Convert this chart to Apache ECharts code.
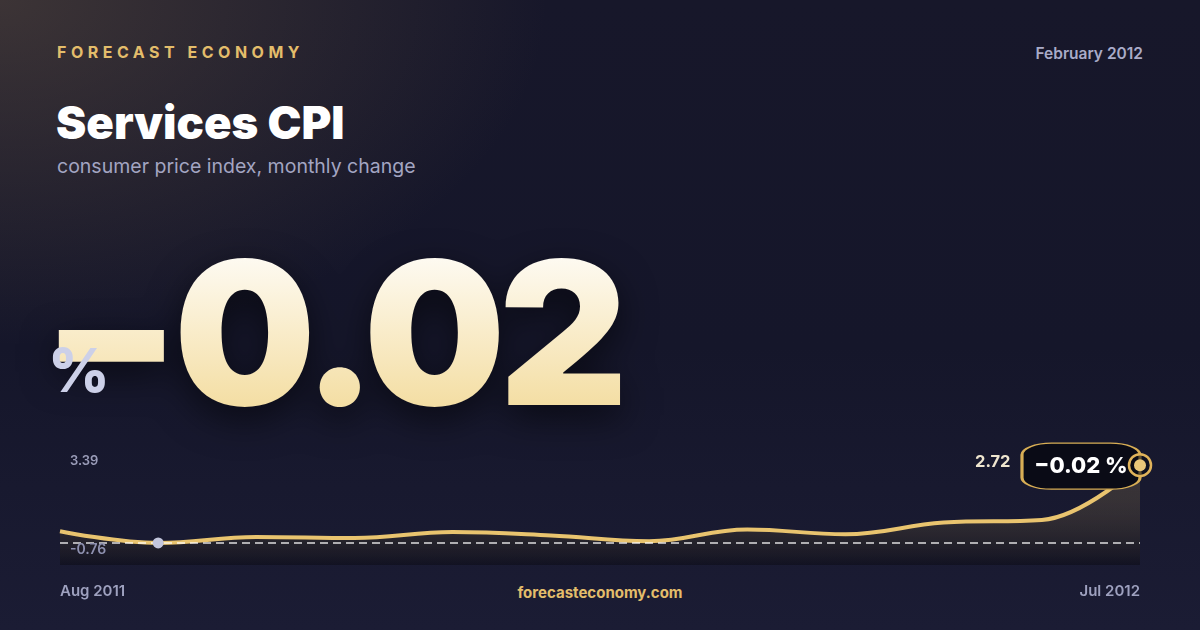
<!DOCTYPE html>
<html>
<head>
<meta charset="utf-8">
<script src="https://cdn.jsdelivr.net/npm/echarts@6.0.0/dist/echarts.min.js"></script>
<style>
  html, body { margin: 0; padding: 0; }
  body {
    width: 1200px; height: 630px; overflow: hidden; position: relative;
    font-family: Inter, "Noto Sans", sans-serif;
    background:
      radial-gradient(ellipse 760px 480px at 0% 0%, rgba(112, 92, 70, 0.42), rgba(0, 0, 0, 0) 72%),
      linear-gradient(180deg, #17172a 0%, #15162a 55%, #1b1c34 100%);
  }
  .txt { position: absolute; white-space: nowrap; line-height: 1; }
  #brand { left: 57px; top: 44px; font-size: 16px; font-weight: 700; letter-spacing: 4.5px; color: #e3bd6b; }
  #date { right: 57px; top: 46px; font-size: 15.5px; font-weight: 600; color: #a9abc8; }
  #title { left: 56px; top: 100px; font-size: 45.5px; font-weight: 900; color: #ffffff; }
  #sub { left: 57px; top: 157px; font-size: 19.5px; font-weight: 400; color: #a3a5c2; }
  #big {
    left: 42px; top: 232px; font-size: 200px; font-weight: 900; letter-spacing: -7px;
    background: linear-gradient(180deg, #ffffff 0%, #f9ecca 50%, #f2d996 100%);
    -webkit-background-clip: text; background-clip: text; color: transparent;
    filter: drop-shadow(0 12px 18px rgba(0, 0, 0, 0.55));
  }
  #pct { left: 48px; top: 340px; font-size: 60px; font-weight: 800; color: #ccd0e8; }
  #site { left: 0; width: 1200px; text-align: center; top: 585px; font-size: 15px; font-weight: 700; color: #e3bd6b; }
  #chart { position: absolute; left: 0; top: 0; width: 1200px; height: 630px; }
</style>
</head>
<body>
<div class="txt" id="brand">FORECAST ECONOMY</div>
<div class="txt" id="date">February 2012</div>
<div class="txt" id="title">Services CPI</div>
<div class="txt" id="sub">consumer price index, monthly change</div>
<div class="txt" id="big">−0.02</div>
<div class="txt" id="pct">%</div>
<div class="txt" id="site">forecasteconomy.com</div>
<div id="chart"></div>
<script>
// months shown on the sparkline
var months = ['Aug 2011', 'Sep 2011', 'Oct 2011', 'Nov 2011', 'Dec 2011', 'Jan 2012',
              'Feb 2012', 'Mar 2012', 'Apr 2012', 'May 2012', 'Jun 2012', 'Jul 2012'];
// monthly values
var cpi = [0.42, 0.01, 0.22, 0.18, 0.39, 0.27, 0.07, 0.48, 0.31, 0.72, 0.81, 2.72];
// axis range (bottom / top labels)
var yRange = [-0.76, 3.39];
// headline value in the badge
var latest = '−0.02';

var last = cpi.length - 1;

function yLabel(v) {
    if (Math.abs(v - yRange[1]) < 1e-6) return '{hi|' + v.toFixed(2) + '}';
    if (Math.abs(v - yRange[0]) < 1e-6) return '{lo|' + v.toFixed(2) + '}';
    return '';
}

var option = {
    animation: false,
    grid: { left: 60, right: 60, top: 446, bottom: 65, outerBoundsMode: 'none' },
    xAxis: {
        type: 'category',
        data: months,
        boundaryGap: false,
        axisLine: { show: false },
        axisTick: { show: false },
        axisLabel: {
            interval: function (i) { return i === 0 || i === last; },
            alignMinLabel: 'left',
            alignMaxLabel: 'right',
            margin: 19,
            color: '#9ea1bf',
            fontSize: 15,
            fontWeight: 600,
            fontFamily: 'Inter'
        }
    },
    yAxis: {
        type: 'value',
        z: 5,
        min: yRange[0],
        max: yRange[1],
        splitLine: { show: false },
        axisLine: { show: false },
        axisTick: { show: false },
        axisLabel: {
            inside: true,
            margin: 10,
            showMinLabel: true,
            showMaxLabel: true,
            formatter: yLabel,
            color: '#9a9cb8',
            fontSize: 13,
            fontWeight: 600,
            fontFamily: 'Inter',
            rich: {
                hi: { padding: [30, 0, 0, 0], fontSize: 13, fontWeight: 600, color: '#9a9cb8' },
                lo: { padding: [0, 0, 31, 0], fontSize: 14, fontWeight: 600, color: '#8e91b0' }
            }
        }
    },
    series: [{
        type: 'line',
        data: cpi,
        smooth: 0.4,
        showSymbol: false,
        lineStyle: { color: '#e9c46f', width: 4 },
        areaStyle: {
            origin: 'start',
            color: new echarts.graphic.LinearGradient(0, 0, 0, 1, [
                { offset: 0, color: 'rgba(233, 196, 111, 0.22)' },
                { offset: 1, color: 'rgba(6, 6, 10, 0.55)' }
            ])
        },
        markLine: {
            silent: true,
            symbol: 'none',
            label: { show: false },
            lineStyle: { color: 'rgba(255, 255, 255, 0.85)', type: [8, 5], width: 1.5 },
            data: [{ yAxis: 0 }]
        },
        markPoint: {
            silent: true,
            data: [
                {
                    type: 'min',
                    symbol: 'circle',
                    symbolSize: 11,
                    itemStyle: { color: '#c3c6dd' },
                    label: { show: false }
                },
                {
                    coord: [last, cpi[last]],
                    symbol: 'roundRect',
                    symbolSize: [118, 46],
                    symbolOffset: [-59, 1],
                    itemStyle: { color: '#0a0b16', borderColor: '#d8ae55', borderWidth: 2 },
                    label: {
                        show: true,
                        position: 'inside',
                        formatter: latest + ' %',
                        color: '#ffffff',
                        fontSize: 22,
                        fontWeight: 800,
                        fontFamily: 'Inter'
                    }
                },
                {
                    coord: [last, cpi[last]],
                    symbol: 'circle',
                    symbolSize: 22,
                    itemStyle: { color: 'rgba(10, 11, 22, 0.6)', borderColor: '#e0b35a', borderWidth: 2.5 },
                    label: { show: false }
                },
                {
                    coord: [last, cpi[last]],
                    symbol: 'circle',
                    symbolSize: 12,
                    itemStyle: { color: '#eac779' },
                    label: { show: false }
                },
                {
                    coord: [last, cpi[last]],
                    value: cpi[last],
                    symbol: 'circle',
                    symbolSize: 1,
                    itemStyle: { color: 'rgba(0, 0, 0, 0)' },
                    label: {
                        show: true,
                        position: 'left',
                        distance: 129,
                        offset: [0, -3],
                        formatter: '{c}',
                        color: '#efe6cf',
                        fontSize: 16.5,
                        fontWeight: 700,
                        fontFamily: 'Inter'
                    }
                }
            ]
        }
    }]
};

var chart = echarts.init(document.getElementById('chart'), null, { renderer: 'canvas' });
chart.setOption(option);
</script>
</body>
</html>
